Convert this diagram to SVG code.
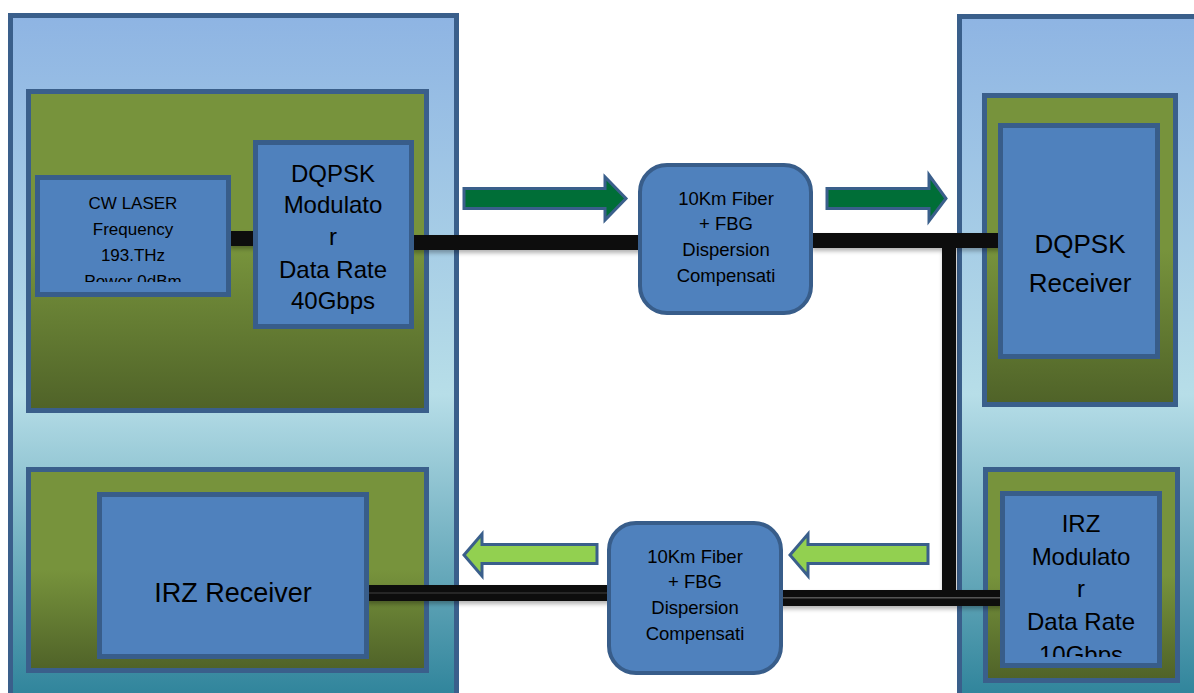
<svg xmlns="http://www.w3.org/2000/svg" width="1194" height="693" viewBox="0 0 1194 693">
<defs>
<linearGradient id="gOuter" gradientUnits="userSpaceOnUse" x1="0" y1="14" x2="0" y2="693">
<stop offset="0" stop-color="#8EB4E3"/>
<stop offset="0.56" stop-color="#B7DEE8"/>
<stop offset="1" stop-color="#31859C"/>
</linearGradient>
<linearGradient id="gGreen" x1="0" y1="0" x2="0" y2="1">
<stop offset="0" stop-color="#77933C"/>
<stop offset="0.5" stop-color="#77933C"/>
<stop offset="1" stop-color="#4F6228"/>
</linearGradient>
<filter id="sh" x="-5%" y="-50%" width="110%" height="250%">
<feDropShadow dx="1" dy="3" stdDeviation="2" flood-color="#000" flood-opacity="0.3"/>
</filter>
<clipPath id="clipCW"><rect x="40" y="180" width="186" height="102"/></clipPath>
<clipPath id="clipIRZ"><rect x="1005" y="496" width="152" height="161"/></clipPath>
<style>
.panel{fill:url(#gOuter);stroke:#3A5F8B;stroke-width:5}
.green{fill:url(#gGreen);stroke:#3A5F8B;stroke-width:5}
.box{fill:#4F81BD;stroke:#385D8A;stroke-width:5}
.fiber{fill:#4F81BD;stroke:#385D8A;stroke-width:4}
.t{font-family:"Liberation Sans",Arial,sans-serif;fill:#000;text-anchor:middle}
.wire{fill:#0D0D0D}
.arrD{fill:#006E37;stroke:#3A5F8B;stroke-width:3;stroke-linejoin:miter}
.arrL{fill:#92D050;stroke:#3A5F8B;stroke-width:3;stroke-linejoin:miter}
</style>
</defs>
<rect width="1194" height="693" fill="#fff"/>

<g id="transmitter-panel">
<rect class="panel" x="10.5" y="15.5" width="446" height="690"/>
</g>
<g id="receiver-panel">
<rect class="panel" x="959.5" y="16.5" width="260" height="690"/>
</g>

<g id="tx-green-top">
<rect class="green" x="28.5" y="91.5" width="398" height="319"/>
</g>
<g id="rx-green-bottom">
<rect class="green" x="28.5" y="469.5" width="398" height="201"/>
</g>
<g id="rx-green-top">
<rect class="green" x="984.5" y="95.5" width="191" height="309"/>
</g>
<g id="tx-green-bottom">
<rect class="green" x="985.5" y="469.5" width="192" height="211"/>
</g>

<g id="connectors" filter="url(#sh)">
<rect class="wire" x="229" y="231" width="28" height="15"/>
<rect class="wire" x="411" y="235" width="230" height="15"/>
<rect class="wire" x="811" y="233" width="191" height="15"/>
<rect class="wire" x="942" y="246" width="14" height="351"/>
<rect class="wire" x="778" y="590" width="224" height="16"/>
<rect x="778" y="597" width="224" height="1.5" fill="#555"/>
<rect class="wire" x="366" y="585" width="243" height="16"/>
<rect x="366" y="592.5" width="243" height="1" fill="#444"/>
</g>

<g id="cw-laser">
<rect class="box" x="37.5" y="177.5" width="191" height="117"/>
<g clip-path="url(#clipCW)">
<text class="t" font-size="17" x="133" y="209">CW LASER</text>
<text class="t" font-size="17" x="133" y="235">Frequency</text>
<text class="t" font-size="17" x="133" y="261">193.THz</text>
<text class="t" font-size="17" x="133" y="287">Power 0dBm</text>
</g>
</g>

<g id="dqpsk-modulator">
<rect class="box" x="255.5" y="142.5" width="156" height="184"/>
<text class="t" font-size="24" x="333" y="182">DQPSK</text>
<text class="t" font-size="24" x="333" y="213">Modulato</text>
<text class="t" font-size="24" x="333" y="245">r</text>
<text class="t" font-size="24" x="333" y="278">Data Rate</text>
<text class="t" font-size="24" x="333" y="309">40Gbps</text>
</g>

<g id="fiber-top">
<rect class="fiber" x="640" y="165" width="171" height="148" rx="27"/>
<text class="t" font-size="18.5" x="726" y="205">10Km Fiber</text>
<text class="t" font-size="18.5" x="726" y="230">+ FBG</text>
<text class="t" font-size="18.5" x="726" y="256">Dispersion</text>
<text class="t" font-size="18.5" x="726" y="282">Compensati</text>
</g>

<g id="fiber-bottom">
<rect class="fiber" x="609" y="523" width="172" height="150" rx="27"/>
<text class="t" font-size="18.5" x="695" y="563">10Km Fiber</text>
<text class="t" font-size="18.5" x="695" y="588">+ FBG</text>
<text class="t" font-size="18.5" x="695" y="614">Dispersion</text>
<text class="t" font-size="18.5" x="695" y="640">Compensati</text>
</g>

<g id="dqpsk-receiver">
<rect class="box" x="1000.5" y="125.5" width="157" height="231"/>
<text class="t" font-size="26" x="1080" y="253">DQPSK</text>
<text class="t" font-size="26" x="1080" y="292">Receiver</text>
</g>

<g id="irz-modulator">
<rect class="box" x="1002.5" y="493.5" width="157" height="172"/>
<g clip-path="url(#clipIRZ)">
<text class="t" font-size="24" x="1081" y="532">IRZ</text>
<text class="t" font-size="24" x="1081" y="565">Modulato</text>
<text class="t" font-size="24" x="1081" y="597">r</text>
<text class="t" font-size="24" x="1081" y="630">Data Rate</text>
<text class="t" font-size="24" x="1081" y="663">10Gbps</text>
</g>
</g>

<g id="irz-receiver">
<rect class="box" x="99.5" y="494.5" width="267" height="162"/>
<text class="t" font-size="27" x="233" y="602">IRZ Receiver</text>
</g>

<g id="direction-arrows">
<polygon class="arrD" points="464,188.5 605,188.5 605,177 626,198.5 605,220 605,208.5 464,208.5"/>
<polygon class="arrD" points="827,188.5 929,188.5 929,175 946,198.5 929,221 929,208.5 827,208.5"/>
<polygon class="arrL" points="597,544.5 482,544.5 482,534 464,555 482,576 482,563.5 597,563.5"/>
<polygon class="arrL" points="928,544.5 808,544.5 808,534 790,555 808,576 808,563.5 928,563.5"/>
</g>
</svg>
